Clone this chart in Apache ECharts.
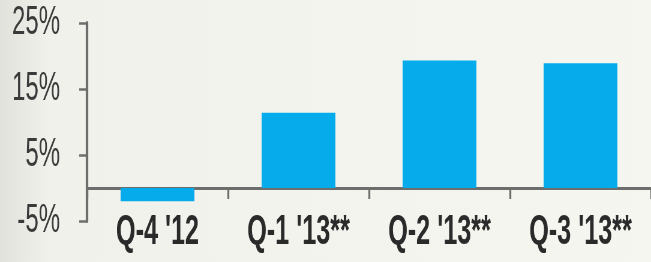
<!DOCTYPE html>
<html>
<head>
<meta charset="utf-8">
<script src="https://cdn.jsdelivr.net/npm/echarts@6/dist/echarts.min.js"></script>
<style>
    html, body { margin: 0; padding: 0; overflow: hidden; }
    body { width: 651px; height: 262px; background: linear-gradient(to right, #e2e2dd 0px, #f1f1ec 50px, #f6f6f1 100%); }
    /* the source uses a condensed face; no narrow font is installed, so squeeze the chart horizontally */
    #chart { width: 1085px; height: 262px; transform: scaleX(0.6); transform-origin: 0 0; }
</style>
</head>
<body>
<div id="chart"></div>
<script>
// chart data
const quarters = ["Q-4 '12", "Q-1 '13**", "Q-2 '13**", "Q-3 '13**"];
const growth = [-2.0, 11.4, 19.3, 18.9];
const yTicks = [-5, 5, 15, 25];

const axisGrey = '#6d6d6b';
const fontFam = '"Liberation Sans", Arial, sans-serif';

const myChart = echarts.init(document.getElementById('chart'));

const option = {
    backgroundColor: 'transparent',
    animation: false,
    grid: { left: 145, right: 0, top: 23, bottom: 41, outerBoundsMode: 'none', containLabel: false },
    xAxis: {
        type: 'category',
        data: quarters,
        axisLine: { onZero: true, lineStyle: { color: axisGrey, width: 3 } },
        axisTick: { show: true, length: 11, lineStyle: { color: axisGrey, width: 3.3 } },
        axisLabel: {
            interval: 0,
            margin: -10,
            color: '#2a2a2a',
            fontFamily: fontFam,
            fontWeight: 'bold',
            fontSize: 42
        }
    },
    yAxis: {
        type: 'value',
        min: -5,
        max: 25,
        splitLine: { show: false },
        axisLine: { show: true, lineStyle: { color: axisGrey, width: 4.2 } },
        axisTick: { show: true, length: 13, customValues: yTicks, lineStyle: { color: axisGrey, width: 2.5 } },
        axisLabel: {
            customValues: yTicks,
            margin: 45,
            color: '#3a3a3a',
            fontFamily: fontFam,
            fontSize: 40,
            formatter: v => v + '%'
        }
    },
    series: [{
        type: 'bar',
        data: growth,
        barWidth: 123,
        itemStyle: { color: '#06abeb' }
    }]
};

myChart.setOption(option);
</script>
</body>
</html>
